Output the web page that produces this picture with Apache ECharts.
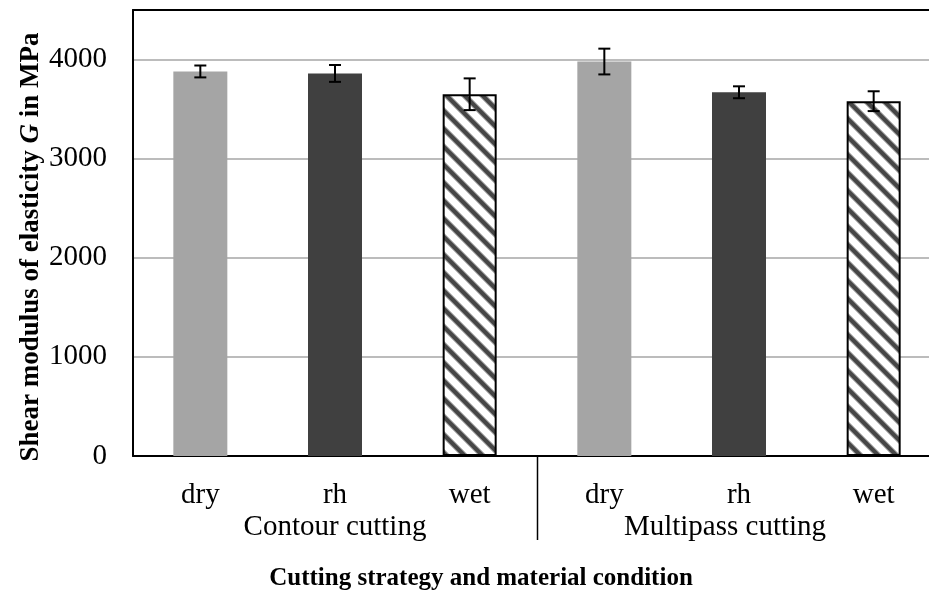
<!DOCTYPE html>
<html>
<head>
<meta charset="utf-8">
<script src="https://cdn.jsdelivr.net/npm/echarts@6/dist/echarts.min.js"></script>
<style>
  html, body { margin: 0; padding: 0; background: #fff; }
  #chart { width: 929px; height: 591px; }
</style>
</head>
<body>
<div id="chart"></div>
<script>
// data
const conditions = ['dry', 'rh', 'wet', 'dry', 'rh', 'wet'];
const strategies = ['Contour cutting', 'Multipass cutting'];
const meanG = [3880, 3860, 3650, 3980, 3670, 3580];
const errG = [60, 85, 160, 130, 60, 100];
const yTicks = [0, 1000, 2000, 3000, 4000];

const FONT = '"Liberation Serif", "Times New Roman", serif';

// diagonal hatch tile for the wet bars, drawn per pixel so it tiles cleanly
function makeHatch() {
    const s = 18;
    const c = document.createElement('canvas');
    c.width = s; c.height = s;
    const ctx = c.getContext('2d');
    const img = ctx.createImageData(s, s);
    for (let y = 0; y < s; y++) {
        for (let x = 0; x < s; x++) {
            let d = ((x - y) % s + s) % s;     // position across one stripe period
            let dist = Math.abs(d - s / 2);     // distance from stripe centre
            let t = Math.min(1, Math.max(0, (dist - 2) / 3)); // 0 = dark, 1 = white
            let v = Math.round(70 + (255 - 70) * t);
            let p = (y * s + x) * 4;
            img.data[p] = v; img.data[p + 1] = v; img.data[p + 2] = v; img.data[p + 3] = 255;
        }
    }
    ctx.putImageData(img, 0, 0);
    return c;
}
const hatch = makeHatch();

const barColors = { dry: '#a5a5a5', rh: '#404040' };

const barData = meanG.map((v, i) => {
    const cond = conditions[i];
    if (cond === 'wet') {
        return { value: v, itemStyle: { color: { image: hatch, repeat: 'repeat' }, borderColor: '#000', borderWidth: 2 } };
    }
    return { value: v, itemStyle: { color: barColors[cond] } };
});

const errData = meanG.map((v, i) => [i, v - errG[i], v + errG[i]]);

const chart = echarts.init(document.getElementById('chart'));
chart.setOption({
    animation: false,
    backgroundColor: '#fff',
    textStyle: { fontFamily: FONT },
    // plot area runs past the right edge of the picture, as in the original
    grid: { left: 133, width: 808, top: 10, bottom: 135, containLabel: false, outerBoundsMode: 'none' },
    xAxis: [
        {
            type: 'category',
            data: conditions,
            position: 'bottom',
            axisLine: { show: true, lineStyle: { color: '#000', width: 2 } },
            axisTick: { show: false },
            axisLabel: { color: '#000', fontSize: 29, fontFamily: FONT, margin: 25, interval: 0 },
            splitLine: { show: false },
            name: 'Cutting strategy and material condition',
            nameLocation: 'middle',
            nameGap: 110,
            nameTextStyle: { color: '#000', fontSize: 25, fontWeight: 'bold', fontFamily: FONT, padding: [0, 112, 0, 0] }
        },
        {
            type: 'category',
            data: strategies,
            position: 'bottom',
            offset: 57,
            axisLine: { show: false },
            axisTick: { show: false },
            axisLabel: {
                color: '#000', fontSize: 29, fontFamily: FONT, interval: 0, margin: 0,
                formatter: function (v, i) { return i === 1 ? '{m|' + v + '}' : v; },
                rich: { m: { fontSize: 29, fontFamily: FONT, color: '#000', padding: [0, 28, 0, 0] } }
            }
        },
        {
            type: 'category',
            data: conditions,
            position: 'top',
            axisLine: { show: true, lineStyle: { color: '#000', width: 2 } },
            axisTick: { show: false },
            axisLabel: { show: false },
            z: 10
        }
    ],
    yAxis: {
        type: 'value',
        min: 0,
        max: 4500,
        interval: 1000,
        axisLine: { show: true, lineStyle: { color: '#000', width: 2 } },
        axisTick: { show: false },
        axisLabel: {
            color: '#000', fontSize: 29, fontFamily: FONT, margin: 26,
            formatter: function (v) { return yTicks.indexOf(v) >= 0 ? String(v) : ''; }
        },
        splitLine: { show: true, lineStyle: { color: '#a6a6a6', width: 1.5 } },
        name: '{b|Shear modulus of elasticity }{i|G}{b| in MPa}',
        nameLocation: 'middle',
        nameGap: 88,
        nameMoveOverlap: false,
        nameRotate: 90,
        nameTextStyle: {
            padding: [0, 28, 0, 0],
            rich: {
                b: { fontSize: 27, fontWeight: 'bold', fontFamily: FONT, color: '#000' },
                i: { fontSize: 27, fontWeight: 'bold', fontStyle: 'italic', fontFamily: FONT, color: '#000' }
            }
        }
    },
    series: [
        {
            type: 'bar',
            data: barData,
            barWidth: 54,
            z: 2
        },
        {
            type: 'custom',
            data: errData,
            z: 5,
            renderItem: function (params, api) {
                const x = api.value(0);
                const lo = api.coord([x, api.value(1)]);
                const hi = api.coord([x, api.value(2)]);
                const cap = 6;
                const st = { stroke: '#000', lineWidth: 2 };
                return {
                    type: 'group',
                    children: [
                        { type: 'line', shape: { x1: hi[0], y1: hi[1], x2: lo[0], y2: lo[1] }, style: st },
                        { type: 'line', shape: { x1: hi[0] - cap, y1: hi[1], x2: hi[0] + cap, y2: hi[1] }, style: st },
                        { type: 'line', shape: { x1: lo[0] - cap, y1: lo[1], x2: lo[0] + cap, y2: lo[1] }, style: st }
                    ]
                };
            }
        }
    ]
});

// divider between the two cutting strategies, placed from the axis scale
const xa = chart.convertToPixel({ xAxisIndex: 0 }, 2);
const xb = chart.convertToPixel({ xAxisIndex: 0 }, 3);
const y0 = chart.convertToPixel({ yAxisIndex: 0 }, 0);
const xd = Math.round((xa + xb) / 2) + 0.5;
chart.setOption({
    graphic: [{
        type: 'line',
        shape: { x1: xd, y1: y0, x2: xd, y2: y0 + 84 },
        style: { stroke: '#000', lineWidth: 1.5 },
        z: 10
    }]
});
</script>
</body>
</html>
